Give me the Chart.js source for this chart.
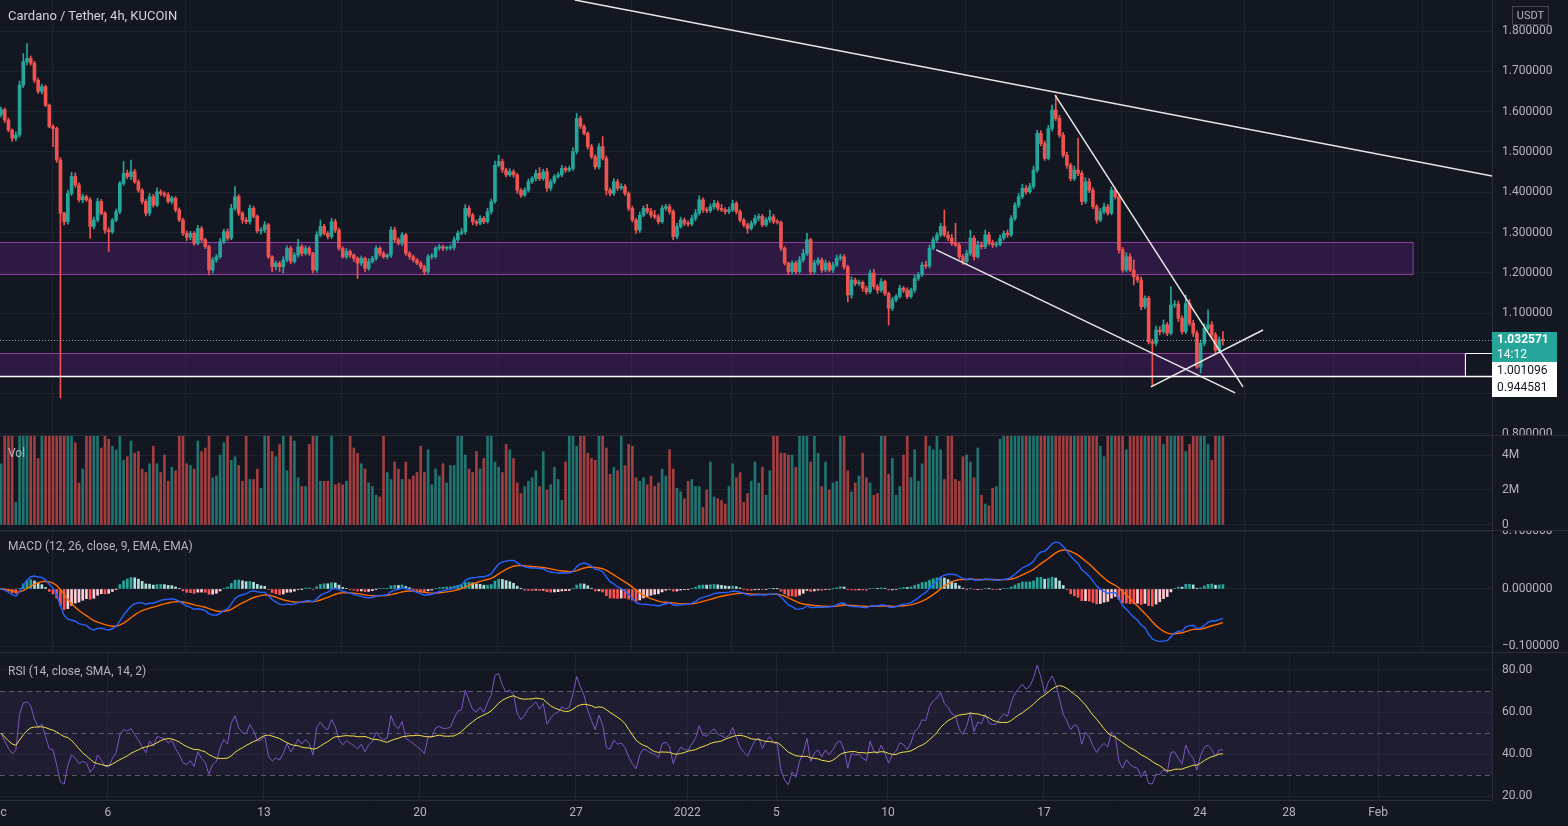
<!DOCTYPE html>
<html>
<head>
<meta charset="utf-8">
<script src="https://cdn.jsdelivr.net/npm/chart.js@4.4.1/dist/chart.umd.min.js"></script>
<style>
  body { margin: 0; background: #131722; width: 1568px; height: 826px; overflow: hidden; font-family: Roboto, sans-serif; }
  .pane { position: absolute; left: 0; width: 1568px; }
  .lbl { position: absolute; left: 8px; color: #b2b5be; font-size: 12px; line-height: 14px; white-space: nowrap; }
  .sep { position: absolute; left: 0; width: 1568px; height: 1px; background: #2a2e39; }
</style>
</head>
<body>
<div class="pane" style="top:0;height:435px"><canvas id="priceChart" width="1568" height="435"></canvas></div>
<div class="pane" style="top:435px;height:95px"><canvas id="volChart" width="1568" height="95"></canvas></div>
<div class="pane" style="top:530px;height:122px"><canvas id="macdChart" width="1568" height="122"></canvas></div>
<div class="pane" style="top:652px;height:174px"><canvas id="rsiChart" width="1568" height="174"></canvas></div>
<div class="sep" style="top:435px"></div>
<div class="sep" style="top:530px"></div>
<div class="sep" style="top:652px"></div>
<div class="lbl" style="top:9px;font-size:13px;color:#d1d4dc">Cardano / Tether, 4h, KUCOIN</div>
<div class="lbl" style="top:446px">Vol</div>
<div class="lbl" style="top:539px">MACD (12, 26, close, 9, EMA, EMA)</div>
<div class="lbl" style="top:664px">RSI (14, close, SMA, 14, 2)</div>
<script>
// ADA/USDT 4h candles (candle 0 = 1 Dec 04:00)
const closes = [
  1.605, 1.579, 1.554, 1.534, 1.542, 1.666, 1.724, 1.732, 1.720, 1.678,
  1.650, 1.662, 1.616, 1.563, 1.558, 1.480, 1.348, 1.327, 1.397, 1.439,
  1.418, 1.381, 1.389, 1.381, 1.315, 1.331, 1.377, 1.348, 1.306, 1.302,
  1.331, 1.352, 1.422, 1.447, 1.439, 1.451, 1.426, 1.405, 1.377, 1.348,
  1.389, 1.368, 1.401, 1.397, 1.393, 1.377, 1.385, 1.356, 1.331, 1.298,
  1.288, 1.298, 1.273, 1.310, 1.282, 1.265, 1.207, 1.232, 1.240, 1.277,
  1.302, 1.286, 1.360, 1.389, 1.348, 1.331, 1.327, 1.360, 1.340, 1.304,
  1.306, 1.319, 1.240, 1.215, 1.224, 1.215, 1.232, 1.261, 1.228, 1.244,
  1.265, 1.248, 1.261, 1.248, 1.207, 1.294, 1.315, 1.298, 1.290, 1.327,
  1.306, 1.261, 1.240, 1.253, 1.244, 1.236, 1.224, 1.236, 1.211, 1.228,
  1.236, 1.261, 1.248, 1.240, 1.244, 1.306, 1.282, 1.273, 1.294, 1.248,
  1.240, 1.232, 1.224, 1.215, 1.203, 1.240, 1.240, 1.261, 1.265, 1.261,
  1.261, 1.263, 1.282, 1.298, 1.302, 1.360, 1.343, 1.327, 1.323, 1.335,
  1.327, 1.352, 1.377, 1.467, 1.476, 1.455, 1.443, 1.451, 1.443, 1.405,
  1.393, 1.405, 1.426, 1.434, 1.447, 1.434, 1.451, 1.410, 1.426, 1.439,
  1.443, 1.459, 1.455, 1.459, 1.501, 1.583, 1.563, 1.546, 1.513, 1.488,
  1.463, 1.513, 1.484, 1.405, 1.397, 1.426, 1.410, 1.414, 1.397, 1.360,
  1.331, 1.306, 1.343, 1.360, 1.352, 1.343, 1.339, 1.327, 1.360, 1.364,
  1.352, 1.290, 1.315, 1.331, 1.323, 1.321, 1.335, 1.348, 1.381, 1.356,
  1.354, 1.364, 1.372, 1.360, 1.356, 1.352, 1.356, 1.372, 1.352, 1.331,
  1.319, 1.310, 1.323, 1.335, 1.340, 1.319, 1.331, 1.339, 1.327, 1.325,
  1.261, 1.224, 1.203, 1.224, 1.203, 1.232, 1.248, 1.282, 1.203, 1.224,
  1.232, 1.207, 1.224, 1.207, 1.219, 1.236, 1.240, 1.215, 1.145, 1.182,
  1.174, 1.176, 1.162, 1.153, 1.199, 1.166, 1.157, 1.178, 1.149, 1.112,
  1.133, 1.141, 1.162, 1.157, 1.141, 1.157, 1.186, 1.195, 1.219, 1.217,
  1.261, 1.282, 1.294, 1.315, 1.294, 1.286, 1.273, 1.269, 1.240, 1.228,
  1.248, 1.286, 1.240, 1.269, 1.265, 1.294, 1.273, 1.269, 1.271, 1.286,
  1.298, 1.294, 1.335, 1.368, 1.389, 1.410, 1.401, 1.414, 1.455, 1.546,
  1.521, 1.484, 1.558, 1.604, 1.583, 1.542, 1.492, 1.467, 1.434, 1.455,
  1.447, 1.377, 1.426, 1.405, 1.364, 1.331, 1.352, 1.364, 1.348, 1.405,
  1.389, 1.257, 1.207, 1.240, 1.207, 1.190, 1.182, 1.116, 1.137, 1.029,
  1.025, 1.058, 1.054, 1.071, 1.050, 1.120, 1.122, 1.087, 1.054, 1.124,
  1.075, 1.050, 0.966, 1.025, 1.062, 1.071, 1.046, 1.008, 1.033, 1.032571
];
const firstOpen = 1.592;

// wick length above / below the body, in thousandths of USDT
const upWick = [
  6,4,5,3,8,10,20,37,6,5,  5,6,4,3,5,4,6,3,8,10,  9,5,6,4,5,7,8,5,4,6,
  4,6,5,29,8,29,6,5,4,5,  8,6,10,5,4,6,5,4,5,4,  6,5,4,8,5,4,3,6,5,8,
  6,7,10,25,5,4,6,8,5,4,  6,8,4,3,5,4,8,6,5,6,  18,5,6,4,3,8,16,5,4,8,
  6,5,4,7,4,3,4,6,3,7,  5,6,4,5,3,8,7,5,6,4,  5,4,3,5,4,6,8,5,6,4,
  5,6,7,6,8,9,6,5,4,7,  5,8,6,10,16,6,5,7,5,4,  4,6,7,5,8,14,6,8,6,5,
  6,8,5,6,10,13,6,5,4,6,  5,8,25,6,5,8,6,7,5,4,  5,4,8,6,10,8,12,6,7,6,
  6,5,8,7,5,6,8,9,10,5,  6,7,8,6,10,6,7,8,5,4,  4,5,6,8,6,5,6,17,6,5,
  4,4,3,6,5,8,10,16,4,7,  6,5,8,4,7,8,6,5,4,8,  5,6,4,5,8,10,5,8,4,3,
  6,5,7,4,6,5,8,6,7,10,  8,7,6,8,41,8,10,50,6,5,  8,20,6,10,8,12,7,8,6,8,
  6,8,7,6,8,10,7,8,10,8,  7,6,8,12,37,8,6,7,5,10,  79,6,10,8,6,5,8,9,6,8,
  6,5,6,10,8,25,6,8,6,5,  6,10,8,12,6,46,9,8,6,21,  10,7,6,8,12,37,8,6,8,21
];
const downWick = [
  5,6,4,8,6,5,6,8,5,6,  5,6,4,3,45,6,459,8,6,5,  6,5,7,4,29,6,5,4,8,49,
  5,4,6,5,6,8,4,5,6,7,  6,5,4,6,5,4,6,5,4,6,  8,6,5,4,6,5,12,8,6,4,
  5,6,4,5,6,8,5,6,4,5,  8,6,5,12,8,12,16,5,6,4,  5,6,4,5,8,6,5,4,6,5,
  6,5,4,5,6,8,38,6,8,5,  4,5,6,4,5,6,5,4,6,5,  6,5,4,5,8,5,6,4,5,6,
  5,4,6,5,4,6,5,8,6,4,  5,4,6,5,4,6,5,4,6,8,  6,4,5,4,6,5,4,8,6,5,
  4,5,6,4,5,6,5,4,6,5,  6,5,4,12,6,5,6,4,5,6,  5,8,6,4,5,6,5,6,4,5,
  6,8,5,4,6,5,4,6,5,6,  5,4,6,5,4,6,5,4,6,5,  5,12,4,5,6,5,4,6,5,4,
  6,5,8,6,5,4,6,5,8,6,  5,6,4,5,6,4,5,6,17,8,  6,5,8,6,5,6,8,5,6,42,
  6,5,4,6,5,4,6,5,4,6,  5,4,6,5,4,6,5,4,6,8,  6,5,8,4,6,5,4,6,5,4,
  5,6,4,5,6,5,6,4,5,6,  6,5,4,6,5,6,5,8,6,5,  6,8,5,6,5,8,4,6,5,4,
  6,8,6,5,4,20,6,8,5,6,  107,6,8,5,6,4,6,8,6,5,  6,8,3,15,6,5,8,10,6,12
];

// volume, millions of ADA
const volumes = [
  3.5,6.2,7.0,5.8,1.3,6.5,8.0,7.2,6.0,6.4,  3.8,5.9,6.6,7.5,6.8,6.1,9.0,6.3,5.6,6.2,
  4.7,2.4,3.2,6.0,5.7,6.4,5.8,4.4,5.5,4.9,  4.5,4.3,6.0,3.7,3.9,4.8,4.1,4.2,3.2,3.0,
  3.5,4.5,3.5,3.0,4.0,2.5,3.3,3.1,5.8,6.2,  3.5,3.4,3.2,4.8,4.2,4.4,6.0,2.7,2.8,4.0,
  4.7,5.6,3.7,3.9,3.4,2.5,6.0,2.6,2.6,3.2,  2.1,5.9,6.3,4.2,3.9,4.6,5.7,3.1,5.5,4.8,
  2.7,2.2,2.2,4.6,5.6,6.1,2.5,2.5,2.5,6.0,  2.3,2.4,2.3,2.5,5.8,4.4,4.1,3.5,3.2,2.4,
  2.2,1.7,1.6,5.5,3.0,2.6,3.6,3.2,2.6,3.6,  2.6,2.8,3.0,4.5,3.0,4.3,2.3,3.2,2.8,3.5,
  2.4,3.4,3.4,5.8,6.1,4.0,3.2,3.0,4.2,3.2,  3.8,5.6,6.0,3.6,3.3,3.0,4.6,4.3,3.8,2.4,
  1.8,2.2,2.5,2.7,3.1,2.2,4.2,2.0,2.3,3.3,  2.6,1.4,3.6,5.7,6.2,4.5,5.9,6.1,4.1,3.8,
  3.7,5.8,6.0,4.4,2.9,3.3,3.1,6.0,3.4,4.6,  4.5,2.7,2.5,2.7,2.3,2.8,2.2,2.4,3.2,2.8,
  4.3,3.2,2.1,1.9,1.5,2.5,2.6,2.2,2.2,1.0,  2.0,3.6,1.6,1.5,1.4,1.2,2.2,3.5,2.7,3.0,
  1.3,1.8,2.5,3.6,2.4,3.3,1.7,3.1,5.9,6.4,  4.1,4.1,4.0,4.0,3.3,5.7,6.0,5.6,3.6,5.8,
  4.1,2.2,3.6,2.0,2.4,2.5,5.5,6.2,3.1,1.9,  2.4,2.8,4.1,2.7,2.4,1.7,1.8,5.6,6.5,2.9,
  3.8,1.7,2.2,4.0,5.7,2.7,4.3,2.5,3.5,5.9,  4.5,4.3,5.6,4.3,2.6,6.0,5.7,2.6,2.5,3.9,
  4.0,3.6,2.7,4.4,1.7,1.2,1.1,2.1,2.2,4.9,  5.6,6.3,7.5,8.2,7.0,6.8,5.9,6.4,8.8,12.0,
  9.5,8.0,10.2,11.5,9.8,8.6,7.7,7.1,6.9,6.2,  8.4,7.9,6.6,6.0,6.8,7.3,4.5,3.9,5.8,6.7,
  6.1,9.6,8.3,4.3,6.5,6.0,6.2,8.5,6.4,10.1,  9.0,7.2,6.1,4.6,5.9,7.8,6.3,5.7,6.6,4.2,
  4.6,6.2,8.8,7.4,6.1,4.6,3.7,5.9,6.0,5.4
];

// time axis: day offsets from 1 Dec and their labels
const tickDays = [0, 5, 12, 19, 26, 31, 35, 40, 47, 54, 58, 62];
const tickLabels = ["Dec", "6", "13", "20", "27", "2022", "5", "10", "17", "24", "28", "Feb"];
const priceTicks = [0.8, 0.9, 1.0, 1.1, 1.2, 1.3, 1.4, 1.5, 1.6, 1.7, 1.8];
const volTicks = [0, 2, 4];
const macdTicks = [-0.1, 0, 0.1];
const rsiTicks = [20, 40, 60, 80];
const rsiLevels = [70, 50, 30];

// drawings: support zones (price top, price bottom, last candle index) and trend lines [x1, p1, x2, p2]
const zoneTop = [1.277, 1.001096];
const zoneBottom = [1.197, 0.944581];
const zoneEnd = [380.2, 394.2];
const trendLines = [
  [154.5, 1.877, 401.5, 1.440],
  [283.8, 1.641, 334.4, 0.917],
  [251.8, 1.257, 332.3, 0.902],
  [309.6, 0.917, 339.8, 1.058]
];
const lastPrice = 1.032571;
const countdown = "14:12";

const UP = "#26a69a", DN = "#ef5350";
const GRID = "rgba(42,46,57,0.55)", TXT = "#b2b5be", FONT = "Roboto";
const X_MIN = -0.27, X_MAX = 401.45;

const opens = closes.map((c, i) => i === 0 ? firstOpen : closes[i - 1]);
const highs = closes.map((c, i) => Math.max(opens[i], c) + upWick[i] / 1000);
const lows = closes.map((c, i) => Math.min(opens[i], c) - downWick[i] / 1000);
const isUp = closes.map((c, i) => c >= opens[i]);
const dayToIndex = d => 6 * d - 1.2;

// indicators
function ema(src, n) {
  const a = 2 / (n + 1);
  const out = [];
  src.forEach((v, i) => out.push(i === 0 ? v : a * v + (1 - a) * out[i - 1]));
  return out;
}
const ema12 = ema(closes, 12), ema26 = ema(closes, 26);
const macd = ema12.map((v, i) => v - ema26[i]);
const signal = ema(macd, 9);
const hist = macd.map((v, i) => v - signal[i]);

const rsiSeed = 0.012;
let avgGain = rsiSeed, avgLoss = rsiSeed;
const rsi = closes.map((c, i) => {
  if (i > 0) {
    const ch = c - closes[i - 1];
    avgGain = (avgGain * 13 + Math.max(ch, 0)) / 14;
    avgLoss = (avgLoss * 13 + Math.max(-ch, 0)) / 14;
  }
  return 100 - 100 / (1 + avgGain / avgLoss);
});
const rsiMa = rsi.map((v, i) => {
  const s = rsi.slice(Math.max(0, i - 13), i + 1);
  return s.reduce((a, b) => a + b, 0) / s.length;
});

Chart.defaults.font.family = FONT;
Chart.defaults.animation = false;

function xAxis(showLabels) {
  return {
    type: "linear", min: X_MIN, max: X_MAX, offset: false,
    grid: { color: GRID, drawTicks: false },
    border: { display: showLabels, color: "#2a2e39" },
    ticks: {
      display: showLabels, color: TXT, font: { size: 12 }, padding: 6,
      maxRotation: 0, autoSkip: false,
      callback: (v, idx) => tickLabels[idx]
    },
    afterBuildTicks: s => { s.ticks = tickDays.map(d => ({ value: dayToIndex(d) })); },
    afterFit: s => { s.paddingLeft = 0; s.paddingRight = 0; if (showLabels) s.height = 26; }
  };
}
function yAxis(min, max, ticks, fmt) {
  return {
    position: "right", min: min, max: max,
    grid: { color: GRID, drawTicks: false },
    border: { display: true, color: "#2a2e39" },
    ticks: { color: TXT, font: { size: 12 }, padding: 10, autoSkip: false, callback: v => fmt(v) },
    afterBuildTicks: s => { s.ticks = ticks.map(v => ({ value: v })); },
    afterFit: s => { s.width = 76; s.paddingTop = 0; s.paddingBottom = 0; }
  };
}
const baseOptions = {
  responsive: false,
  layout: { padding: 0 },
  plugins: { legend: { display: false }, tooltip: { enabled: false } }
};

// price pane drawings
const pricePlugin = {
  id: "pricePane",
  beforeDatasetsDraw(chart) {
    const { ctx, chartArea: a, scales: { x, y } } = chart;
    ctx.save();
    for (let k = 0; k < zoneTop.length; k++) {
      const x1 = x.getPixelForValue(zoneEnd[k]);
      const y0 = Math.round(y.getPixelForValue(zoneTop[k])) + 0.5;
      const y1 = Math.round(y.getPixelForValue(zoneBottom[k])) + 0.5;
      ctx.fillStyle = "rgba(123,31,162,0.25)";
      ctx.fillRect(a.left, y0, x1 - a.left, y1 - y0);
      ctx.strokeStyle = "rgba(171,71,188,0.8)";
      ctx.lineWidth = 1;
      ctx.strokeRect(a.left - 2, y0, x1 - a.left + 2, y1 - y0);
    }
    ctx.restore();
  },
  afterDatasetsDraw(chart) {
    const { ctx, chartArea: a, scales: { x, y } } = chart;
    ctx.save();
    // last price dotted line
    const py = Math.round(y.getPixelForValue(lastPrice)) + 0.5;
    ctx.strokeStyle = "rgba(190,193,200,0.75)";
    ctx.setLineDash([1, 2]);
    ctx.lineWidth = 1;
    ctx.beginPath(); ctx.moveTo(a.left, py); ctx.lineTo(a.right, py); ctx.stroke();
    ctx.setLineDash([]);
    // white range box on the lower zone
    const yb = Math.round(y.getPixelForValue(zoneBottom[1])) + 0.5;
    const yt = Math.round(y.getPixelForValue(zoneTop[1])) + 0.5;
    const xe = Math.round(x.getPixelForValue(zoneEnd[1])) + 0.5;
    ctx.strokeStyle = "#ffffff";
    ctx.lineWidth = 1.5;
    ctx.beginPath(); ctx.moveTo(a.left, yb); ctx.lineTo(a.right, yb); ctx.stroke();
    ctx.lineWidth = 1;
    ctx.beginPath(); ctx.moveTo(a.right, yt); ctx.lineTo(xe, yt); ctx.lineTo(xe, yb); ctx.stroke();
    ctx.restore();
  },
  afterDraw(chart) {
    const { ctx, chartArea: a, scales: { y } } = chart;
    const py = Math.round(y.getPixelForValue(lastPrice));
    ctx.save();
    ctx.textBaseline = "middle";
    ctx.fillStyle = UP;
    ctx.fillRect(a.right, py - 8, 65, 30);
    ctx.fillStyle = "#ffffff";
    ctx.font = "bold 12px Roboto";
    ctx.fillText(lastPrice.toFixed(6), a.right + 5, py);
    ctx.font = "12px Roboto";
    ctx.fillText(countdown, a.right + 5, py + 15);
    ctx.fillRect(a.right, py + 22, 65, 35);
    ctx.fillStyle = "#131722";
    ctx.fillText(zoneTop[1].toFixed(6), a.right + 5, py + 31);
    ctx.fillText(zoneBottom[1].toFixed(6), a.right + 5, py + 48);
    // currency box
    ctx.strokeStyle = "#434651";
    ctx.strokeRect(1512.5, 6.5, 36, 18);
    ctx.fillStyle = TXT;
    ctx.font = "11px Roboto";
    ctx.textAlign = "center";
    ctx.fillText("USDT", 1530.5, 16);
    ctx.restore();
  }
};

new Chart(document.getElementById("priceChart"), {
  type: "bar",
  data: {
    datasets: [
      {
        label: "body", order: 1, grouped: false, barThickness: 3, minBarLength: 1,
        data: closes.map((c, i) => ({ x: i, y: [opens[i], c] })),
        backgroundColor: isUp.map(u => u ? UP : DN)
      },
      {
        label: "wick", order: 2, grouped: false, barThickness: 1,
        data: closes.map((c, i) => ({ x: i, y: [lows[i], highs[i]] })),
        backgroundColor: isUp.map(u => u ? UP : DN)
      },
      ...trendLines.map(t => ({
        type: "line", order: 0, borderColor: "#e8e8e8", borderWidth: 1.5, pointRadius: 0,
        data: [{ x: t[0], y: t[1] }, { x: t[2], y: t[3] }]
      }))
    ]
  },
  options: {
    ...baseOptions,
    scales: {
      x: xAxis(false),
      y: yAxis(0.7975, 1.877, priceTicks, v => v.toFixed(6))
    }
  },
  plugins: [pricePlugin]
});

new Chart(document.getElementById("volChart"), {
  type: "bar",
  data: {
    datasets: [{
      label: "Vol", grouped: false, barThickness: 2,
      data: volumes.map((v, i) => ({ x: i, y: v * 1e6 })),
      backgroundColor: isUp.map(u => u ? "rgba(38,166,154,0.65)" : "rgba(239,83,80,0.65)")
    }]
  },
  options: {
    ...baseOptions,
    scales: {
      x: xAxis(false),
      y: yAxis(-0.286e6, 5.143e6, volTicks.map(v => v * 1e6), v => v === 0 ? "0" : (v / 1e6) + "M")
    }
  }
});

const histColors = hist.map((h, i) => {
  const p = i > 0 ? hist[i - 1] : 0;
  if (h >= 0) return h > p ? "#26a69a" : "#b2dfdb";
  return h < p ? "#ff5252" : "#ffcdd2";
});

new Chart(document.getElementById("macdChart"), {
  type: "bar",
  data: {
    datasets: [
      {
        label: "Histogram", order: 3, grouped: false, barThickness: 2,
        data: hist.map((v, i) => ({ x: i, y: v })),
        backgroundColor: histColors
      },
      {
        type: "line", label: "MACD", order: 1, borderColor: "#2962ff", borderWidth: 1.4, pointRadius: 0,
        data: macd.map((v, i) => ({ x: i, y: v }))
      },
      {
        type: "line", label: "Signal", order: 2, borderColor: "#ff6d00", borderWidth: 1.4, pointRadius: 0,
        data: signal.map((v, i) => ({ x: i, y: v }))
      }
    ]
  },
  options: {
    ...baseOptions,
    scales: {
      x: xAxis(false),
      y: yAxis(-0.1096, 0.1026, macdTicks, v => (v < 0 ? "\u2212" : "") + Math.abs(v).toFixed(6))
    }
  }
});

const rsiPlugin = {
  id: "rsiBands",
  beforeDatasetsDraw(chart) {
    const { ctx, chartArea: a, scales: { y } } = chart;
    const yHi = y.getPixelForValue(rsiLevels[0]), yLo = y.getPixelForValue(rsiLevels[2]);
    ctx.save();
    ctx.fillStyle = "rgba(126,87,194,0.1)";
    ctx.fillRect(a.left, yHi, a.width, yLo - yHi);
    ctx.strokeStyle = "rgba(120,123,134,0.7)";
    ctx.setLineDash([5, 4]);
    ctx.lineWidth = 1;
    rsiLevels.forEach(v => {
      const py = Math.round(y.getPixelForValue(v)) + 0.5;
      ctx.beginPath(); ctx.moveTo(a.left, py); ctx.lineTo(a.right, py); ctx.stroke();
    });
    ctx.restore();
  }
};

new Chart(document.getElementById("rsiChart"), {
  type: "line",
  data: {
    datasets: [
      {
        label: "RSI", order: 2, borderColor: "#7e57c2", borderWidth: 1, pointRadius: 0,
        data: rsi.map((v, i) => ({ x: i, y: v }))
      },
      {
        label: "RSI MA", order: 1, borderColor: "#f5e14a", borderWidth: 1, pointRadius: 0,
        data: rsiMa.map((v, i) => ({ x: i, y: v }))
      }
    ]
  },
  options: {
    ...baseOptions,
    scales: {
      x: xAxis(true),
      y: yAxis(18.1, 88.57, rsiTicks, v => v.toFixed(2))
    }
  },
  plugins: [rsiPlugin]
});
</script>
</body>
</html>
